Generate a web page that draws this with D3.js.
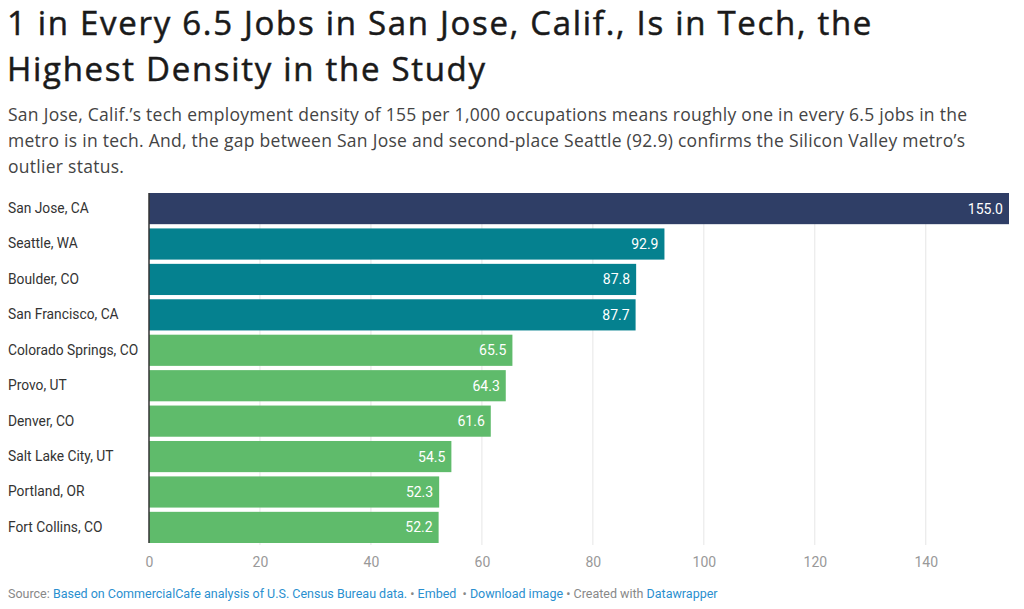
<!DOCTYPE html>
<html>
<head>
<meta charset="utf-8">
<script src="https://cdn.jsdelivr.net/npm/d3@7"></script>
<style>
  body { margin: 0; background: #fff; }
  .canvas { width: 1024px; height: 609px; }
</style>
</head>
<body>
<div class="canvas"></div>
<script>
const cities = ['San Jose, CA', 'Seattle, WA', 'Boulder, CO', 'San Francisco, CA', 'Colorado Springs, CO',
  'Provo, UT', 'Denver, CO', 'Salt Lake City, UT', 'Portland, OR', 'Fort Collins, CO'];
const density = [155.0, 92.9, 87.8, 87.7, 65.5, 64.3, 61.6, 54.5, 52.3, 52.2];
const groups = ['top', 'mid', 'mid', 'mid', 'low', 'low', 'low', 'low', 'low', 'low'];
const xTicks = [0, 20, 40, 60, 80, 100, 120, 140];

const titleLines = ['1 in Every 6.5 Jobs in San Jose, Calif., Is in Tech, the', 'Highest Density in the Study'];
const subtitleLines = [
  'San Jose, Calif.\u2019s tech employment density of 155 per 1,000 occupations means roughly one in every 6.5 jobs in the',
  'metro is in tech. And, the gap between San Jose and second-place Seattle (92.9) confirms the Silicon Valley metro\u2019s',
  'outlier status.'
];

const colors = { top: '#2f3e66', mid: '#05818f', low: '#5fbb6b' };

const width = 1024, height = 609;
const margin = { top: 193, left: 149, right: 15, bottom: 67 };
const graphWidth = 1009 - margin.left;
const graphHeight = 543 - margin.top;

const svg = d3.select('.canvas')
  .append('svg')
   .attr('width', width)
   .attr('height', height);

// title + description
svg.append('g').selectAll('text')
  .data(titleLines)
  .enter().append('text')
   .attr('x', 7)
   .attr('y', (d, i) => 35 + i * 46)
   .attr('font-family', '"Open Sans", sans-serif')
   .attr('font-size', '33px')
   .attr('letter-spacing', '1.7px')
   .attr('fill', '#1a1a1a')
   .attr('stroke', '#1a1a1a')
   .attr('stroke-width', 0.5)
   .text(d => d);

svg.append('g').selectAll('text')
  .data(subtitleLines)
  .enter().append('text')
   .attr('x', 8)
   .attr('y', (d, i) => 121 + i * 26)
   .attr('font-family', '"Open Sans", sans-serif')
   .attr('font-size', '17.5px')
   .attr('letter-spacing', '0.27px')
   .attr('fill', '#444')
   .text(d => d);

const graph = svg.append('g')
  .attr('transform', `translate(${margin.left}, ${margin.top})`);

const x = d3.scaleLinear()
  .domain([0, 155])
  .range([0, graphWidth]);

const y = d3.scaleBand()
  .domain(cities)
  .range([0, graphHeight])
  .paddingInner(0.12)
  .paddingOuter(0.0);

// grid lines
graph.append('g').selectAll('line')
  .data(xTicks.filter(t => t > 0))
  .enter().append('line')
   .attr('x1', d => x(d)).attr('x2', d => x(d))
   .attr('y1', 0).attr('y2', graphHeight + 2)
   .attr('stroke', '#e6e6e6')
   .attr('stroke-width', 1);

const data = cities.map((c, i) => ({ name: c, value: density[i], group: groups[i] }));

graph.selectAll('rect')
  .data(data)
  .enter().append('rect')
   .attr('x', 0)
   .attr('y', d => y(d.name))
   .attr('width', d => x(d.value))
   .attr('height', y.bandwidth())
   .attr('fill', d => colors[d.group]);

// value labels inside bars
graph.append('g').selectAll('text')
  .data(data)
  .enter().append('text')
   .attr('x', d => x(d.value) - 6)
   .attr('y', d => y(d.name) + y.bandwidth() / 2)
   .attr('dy', '0.36em')
   .attr('text-anchor', 'end')
   .attr('font-family', 'Roboto, sans-serif')
   .attr('font-size', '14px')
   .attr('fill', '#fff')
   .text(d => d.value.toFixed(1));

// category labels
const yAxis = d3.axisLeft(y).tickSize(0).tickPadding(0);
const yAxisGroup = graph.append('g').call(yAxis);
yAxisGroup.select('.domain').remove();
yAxisGroup.selectAll('text')
  .attr('x', -141)
  .attr('text-anchor', 'start')
  .attr('font-family', 'Roboto, sans-serif')
  .attr('font-size', '13.8px')
  .attr('fill', '#333');

// baseline
graph.append('line')
  .attr('x1', 0).attr('x2', 0)
  .attr('y1', 0).attr('y2', graphHeight)
  .attr('stroke', '#333')
  .attr('stroke-width', 1.5);

// x axis ticks
const xAxis = d3.axisBottom(x).tickValues(xTicks).tickSize(0).tickPadding(14);
const xAxisGroup = graph.append('g')
  .attr('transform', `translate(0, ${graphHeight})`)
  .call(xAxis);
xAxisGroup.select('.domain').remove();
xAxisGroup.selectAll('text')
  .attr('font-family', 'Roboto, sans-serif')
  .attr('font-size', '14px')
  .attr('fill', '#999');

// footer
const footer = svg.append('text')
  .attr('x', 8)
  .attr('y', 598)
  .attr('font-family', 'Roboto, sans-serif')
  .attr('font-size', '12.5px');
const parts = [
  ['Source: ', '#888'],
  ['Based on CommercialCafe analysis of U.S. Census Bureau data.', '#2a8fcf'],
  [' \u2022 ', '#888'],
  ['Embed', '#2a8fcf'],
  [' \u00a0\u2022 ', '#888'],
  ['Download image', '#2a8fcf'],
  [' \u2022 Created with ', '#888'],
  ['Datawrapper', '#2a8fcf']
];
footer.selectAll('tspan')
  .data(parts)
  .enter().append('tspan')
   .attr('fill', d => d[1])
   .text(d => d[0]);
</script>
</body>
</html>
